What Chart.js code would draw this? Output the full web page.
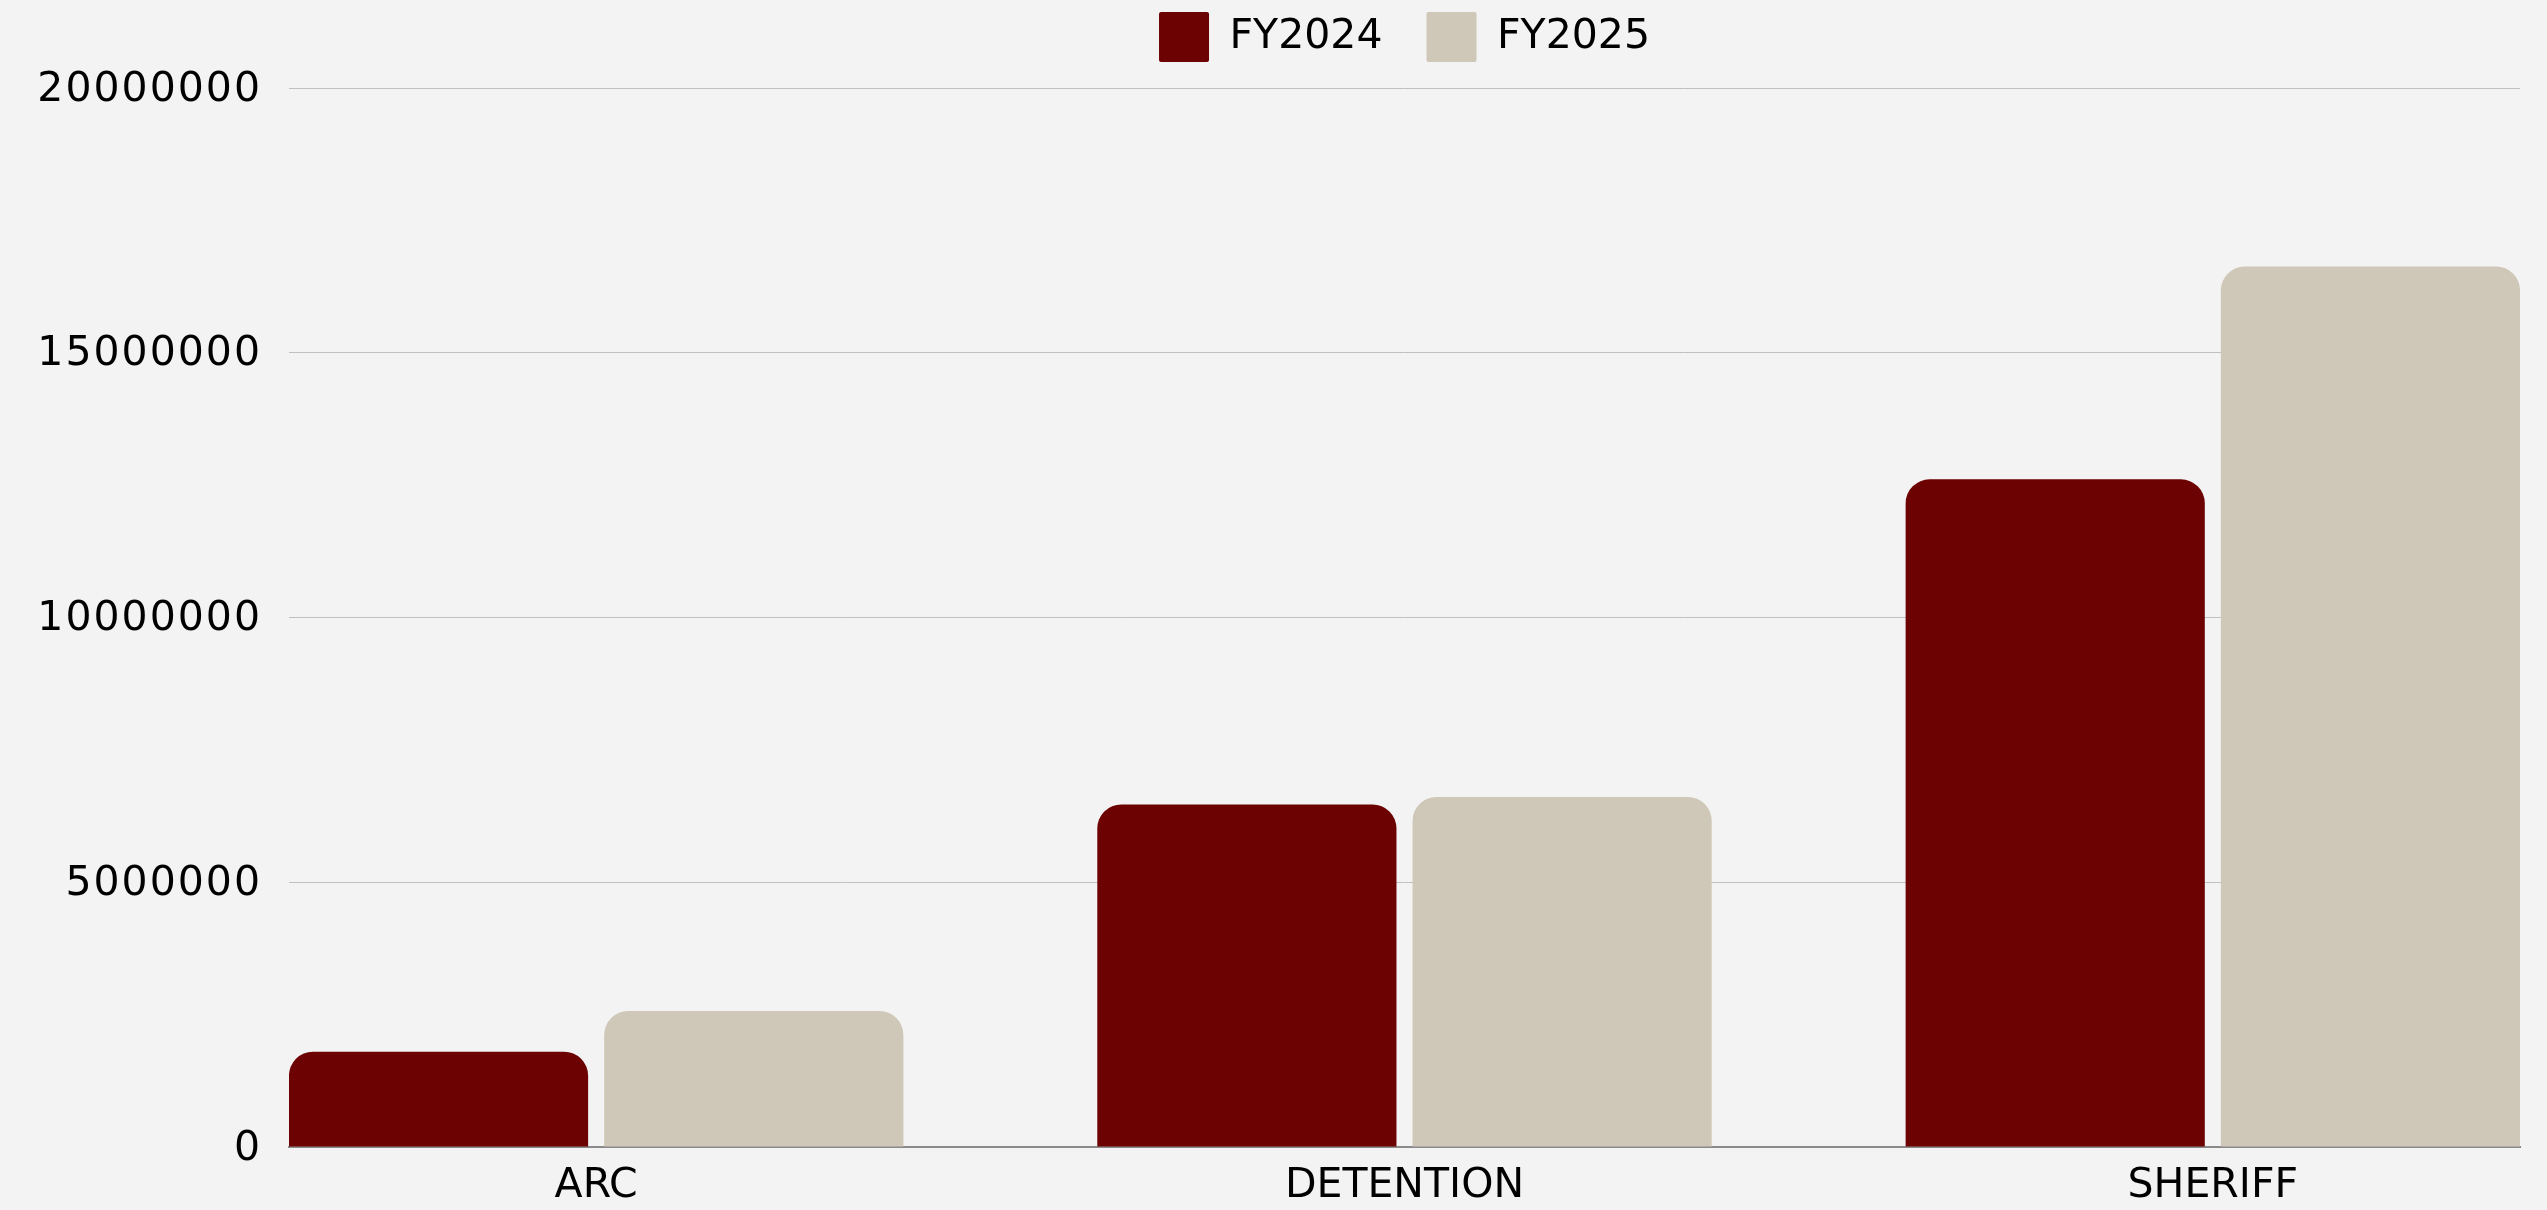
<!DOCTYPE html>
<html>
<head>
<meta charset="utf-8">
<script src="https://cdn.jsdelivr.net/npm/chart.js@4.4.1/dist/chart.umd.min.js"></script>
<style>
  html, body { margin: 0; padding: 0; background: #f3f3f3; }
  #wrap { position: relative; width: 2547px; height: 1210px; }
</style>
</head>
<body>
<div id="wrap"><canvas id="c"></canvas></div>
<script>
const categories = ['ARC', 'DETENTION', 'SHERIFF'];
const seriesNames = ['FY2024', 'FY2025'];
const fy2024 = [1800000, 6470000, 12610000];
const fy2025 = [2570000, 6610000, 16630000];
const yTickValues = [0, 5000000, 10000000, 15000000, 20000000];
const seriesColors = ['#6c0202', '#cfc7b7'];

Chart.defaults.font.family = '"DejaVu Sans", sans-serif';
Chart.defaults.color = '#000';

const legendHeightPlugin = {
  id: 'legendHeight',
  beforeLayout(chart) {
    const lg = chart.legend;
    if (lg && !lg._patchedFit) {
      const orig = lg.fit;
      lg.fit = function () { orig.call(this); this.height = 120; };
      lg._patchedFit = true;
    }
  },
  afterLayout(chart) {
    const ys = chart.scales.y;
    if (ys && !ys._patchedLabels) {
      const orig = ys.drawLabels;
      ys.drawLabels = function (area) {
        const ctx = this.ctx;
        ctx.save();
        ctx.letterSpacing = '2px';
        ctx.translate(0, 2);
        orig.call(this, area);
        ctx.restore();
      };
      ys._patchedLabels = true;
    }
  }
};

const toPoints = arr => arr.map((v, i) => ({ x: i, y: v }));

new Chart(document.getElementById('c'), {
  type: 'bar',
  data: {
    datasets: [
      { label: seriesNames[0], data: toPoints(fy2024), backgroundColor: seriesColors[0], borderWidth: 0,
        borderRadius: 24, categoryPercentage: 0.78, barPercentage: 0.949 },
      { label: seriesNames[1], data: toPoints(fy2025), backgroundColor: seriesColors[1], borderWidth: 0,
        borderRadius: 24, categoryPercentage: 0.78, barPercentage: 0.949 }
    ]
  },
  options: {
    responsive: true,
    maintainAspectRatio: false,
    animation: false,
    layout: { padding: { top: -32, right: 27, left: 0, bottom: 0 } },
    plugins: {
      legend: {
        position: 'top',
        align: 'center',
        fullSize: false,
        labels: {
          boxWidth: 50,
          boxHeight: 50,
          padding: 44,
          useBorderRadius: true,
          borderRadius: 2,
          color: '#000',
          font: { size: 41, family: '"DejaVu Sans", sans-serif' }
        }
      },
      tooltip: { enabled: false }
    },
    scales: {
      x: {
        type: 'linear',
        offset: false,
        min: -0.38,
        max: 2.38,
        afterBuildTicks: scale => { scale.ticks = categories.map((c, i) => ({ value: i })); },
        afterFit: scale => { scale.height = 63; },
        grid: { display: false, drawTicks: false, offset: false },
        border: { display: true, color: '#8a8a8a', width: 2 },
        ticks: {
          autoSkip: false,
          maxRotation: 0,
          padding: 15,
          color: '#000',
          font: { size: 41 },
          callback: v => categories[v]
        }
      },
      y: {
        min: 0,
        max: 20000000,
        afterBuildTicks: scale => { scale.ticks = yTickValues.map(v => ({ value: v })); },
        afterFit: scale => { scale.width = 289; },
        grid: { color: '#c0c0c0', lineWidth: 1, drawTicks: false },
        border: { display: false },
        ticks: {
          padding: 27,
          color: '#000',
          font: { size: 41 },
          callback: v => String(v)
        }
      }
    }
  },
  plugins: [legendHeightPlugin]
});
</script>
</body>
</html>
